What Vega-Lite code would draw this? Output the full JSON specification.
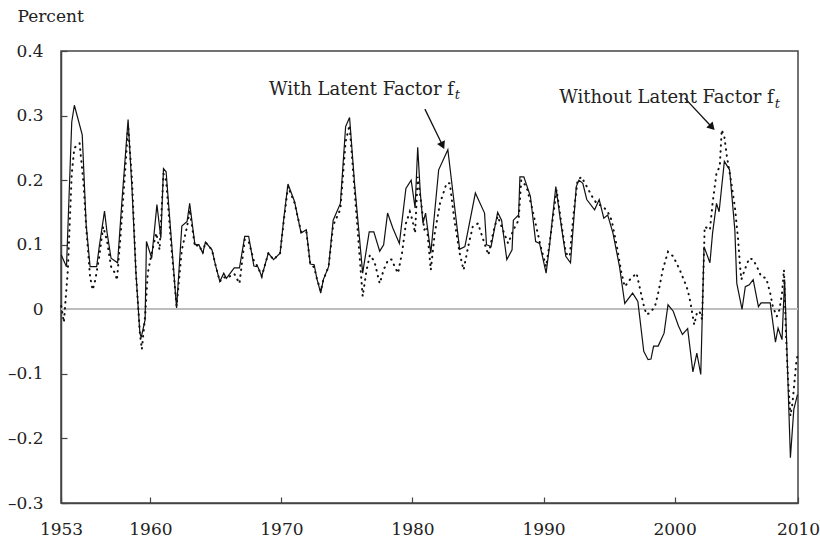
{
  "$schema": "https://vega.github.io/schema/vega-lite/v6.json",
  "width": 737,
  "height": 452,
  "autosize": "none",
  "padding": {"left": 61, "top": 51, "right": 22, "bottom": 46},
  "background": "white",
  "config": {
    "view": {"stroke": "#444", "strokeWidth": 1.5},
    "font": "DejaVu Serif"
  },
  "datasets": {
    "withf": [
      {"year": 1953.2, "value": 0.084}, {"year": 1953.6, "value": 0.066}, {"year": 1954.0, "value": 0.29}, {"year": 1954.2, "value": 0.316},
      {"year": 1954.8, "value": 0.27}, {"year": 1955.1, "value": 0.131}, {"year": 1955.4, "value": 0.066}, {"year": 1955.9, "value": 0.066},
      {"year": 1956.1, "value": 0.097}, {"year": 1956.5, "value": 0.152}, {"year": 1956.7, "value": 0.118}, {"year": 1957.0, "value": 0.079},
      {"year": 1957.5, "value": 0.072}, {"year": 1957.8, "value": 0.159}, {"year": 1958.3, "value": 0.294}, {"year": 1958.6, "value": 0.185},
      {"year": 1958.9, "value": 0.056}, {"year": 1959.2, "value": -0.037}, {"year": 1959.3, "value": -0.044}, {"year": 1959.6, "value": -0.016},
      {"year": 1959.7, "value": 0.105}, {"year": 1960.1, "value": 0.079}, {"year": 1960.5, "value": 0.162}, {"year": 1960.8, "value": 0.11},
      {"year": 1961.0, "value": 0.218}, {"year": 1961.2, "value": 0.213}, {"year": 1961.6, "value": 0.108}, {"year": 1962.0, "value": 0.002},
      {"year": 1962.4, "value": 0.129}, {"year": 1962.8, "value": 0.136}, {"year": 1963.0, "value": 0.164}, {"year": 1963.4, "value": 0.1},
      {"year": 1963.7, "value": 0.1}, {"year": 1964.0, "value": 0.087}, {"year": 1964.2, "value": 0.104}, {"year": 1964.7, "value": 0.092},
      {"year": 1965.0, "value": 0.066}, {"year": 1965.3, "value": 0.043}, {"year": 1965.6, "value": 0.056}, {"year": 1965.8, "value": 0.048},
      {"year": 1966.4, "value": 0.064}, {"year": 1966.8, "value": 0.064}, {"year": 1967.2, "value": 0.113}, {"year": 1967.5, "value": 0.113},
      {"year": 1967.9, "value": 0.067}, {"year": 1968.2, "value": 0.066}, {"year": 1968.5, "value": 0.051}, {"year": 1969.0, "value": 0.087},
      {"year": 1969.4, "value": 0.077}, {"year": 1969.9, "value": 0.087}, {"year": 1970.2, "value": 0.144}, {"year": 1970.5, "value": 0.194},
      {"year": 1971.0, "value": 0.167}, {"year": 1971.5, "value": 0.118}, {"year": 1971.9, "value": 0.123}, {"year": 1972.2, "value": 0.07},
      {"year": 1972.5, "value": 0.069}, {"year": 1972.7, "value": 0.048}, {"year": 1973.0, "value": 0.025}, {"year": 1973.2, "value": 0.046},
      {"year": 1973.6, "value": 0.066}, {"year": 1973.95, "value": 0.138}, {"year": 1974.5, "value": 0.164}, {"year": 1974.9, "value": 0.283},
      {"year": 1975.2, "value": 0.297}, {"year": 1975.6, "value": 0.19}, {"year": 1976.2, "value": 0.056}, {"year": 1976.7, "value": 0.12},
      {"year": 1977.05, "value": 0.12}, {"year": 1977.5, "value": 0.09}, {"year": 1977.8, "value": 0.1}, {"year": 1978.1, "value": 0.149},
      {"year": 1978.5, "value": 0.126}, {"year": 1979.0, "value": 0.102}, {"year": 1979.5, "value": 0.187}, {"year": 1979.9, "value": 0.2},
      {"year": 1980.2, "value": 0.157}, {"year": 1980.4, "value": 0.251}, {"year": 1980.6, "value": 0.18}, {"year": 1980.8, "value": 0.133},
      {"year": 1981.0, "value": 0.149}, {"year": 1981.4, "value": 0.087}, {"year": 1982.0, "value": 0.216}, {"year": 1982.7, "value": 0.247},
      {"year": 1983.6, "value": 0.093}, {"year": 1984.0, "value": 0.097}, {"year": 1984.8, "value": 0.18}, {"year": 1985.5, "value": 0.149},
      {"year": 1985.65, "value": 0.1}, {"year": 1986.0, "value": 0.097}, {"year": 1986.5, "value": 0.15}, {"year": 1986.8, "value": 0.138},
      {"year": 1987.2, "value": 0.077}, {"year": 1987.6, "value": 0.092}, {"year": 1987.7, "value": 0.138}, {"year": 1988.1, "value": 0.146},
      {"year": 1988.2, "value": 0.205}, {"year": 1988.5, "value": 0.205}, {"year": 1989.0, "value": 0.175}, {"year": 1989.4, "value": 0.105},
      {"year": 1989.7, "value": 0.102}, {"year": 1990.2, "value": 0.056}, {"year": 1990.45, "value": 0.097}, {"year": 1990.94, "value": 0.19},
      {"year": 1991.25, "value": 0.144}, {"year": 1991.7, "value": 0.082}, {"year": 1992.06, "value": 0.072}, {"year": 1992.5, "value": 0.19},
      {"year": 1992.7, "value": 0.2}, {"year": 1993.0, "value": 0.195}, {"year": 1993.3, "value": 0.17}, {"year": 1993.9, "value": 0.154},
      {"year": 1994.25, "value": 0.17}, {"year": 1994.6, "value": 0.141}, {"year": 1994.9, "value": 0.146}, {"year": 1995.3, "value": 0.118},
      {"year": 1995.8, "value": 0.066}, {"year": 1996.2, "value": 0.009}, {"year": 1996.8, "value": 0.025}, {"year": 1997.2, "value": 0.012},
      {"year": 1997.65, "value": -0.065}, {"year": 1997.98, "value": -0.078}, {"year": 1998.2, "value": -0.077}, {"year": 1998.4, "value": -0.057},
      {"year": 1998.75, "value": -0.057}, {"year": 1999.2, "value": -0.037}, {"year": 1999.5, "value": 0.007}, {"year": 1999.9, "value": -0.003},
      {"year": 2000.3, "value": -0.026}, {"year": 2000.6, "value": -0.039}, {"year": 2001.0, "value": -0.03}, {"year": 2001.4, "value": -0.097},
      {"year": 2001.7, "value": -0.068}, {"year": 2002.0, "value": -0.101}, {"year": 2002.25, "value": 0.097}, {"year": 2002.7, "value": 0.072},
      {"year": 2002.9, "value": 0.118}, {"year": 2003.2, "value": 0.164}, {"year": 2003.4, "value": 0.151}, {"year": 2003.8, "value": 0.229},
      {"year": 2004.2, "value": 0.216}, {"year": 2004.6, "value": 0.123}, {"year": 2004.75, "value": 0.04}, {"year": 2005.15, "value": 0.0},
      {"year": 2005.4, "value": 0.035}, {"year": 2005.7, "value": 0.038}, {"year": 2006.0, "value": 0.046}, {"year": 2006.4, "value": 0.004},
      {"year": 2006.6, "value": 0.01}, {"year": 2007.3, "value": 0.01}, {"year": 2007.7, "value": -0.051}, {"year": 2007.9, "value": -0.029},
      {"year": 2008.2, "value": -0.047}, {"year": 2008.4, "value": 0.046}, {"year": 2008.84, "value": -0.23}, {"year": 2009.1, "value": -0.155},
      {"year": 2009.38, "value": -0.132}
    ],
    "withoutf": [
      {"year": 1953.2, "value": 0.005}, {"year": 1953.4, "value": -0.02}, {"year": 1953.7, "value": 0.06}, {"year": 1954.0, "value": 0.21},
      {"year": 1954.2, "value": 0.25}, {"year": 1954.6, "value": 0.257}, {"year": 1954.9, "value": 0.195}, {"year": 1955.1, "value": 0.128},
      {"year": 1955.4, "value": 0.05}, {"year": 1955.6, "value": 0.03}, {"year": 1955.8, "value": 0.046}, {"year": 1956.1, "value": 0.082},
      {"year": 1956.4, "value": 0.128}, {"year": 1956.7, "value": 0.105}, {"year": 1957.0, "value": 0.066}, {"year": 1957.3, "value": 0.056},
      {"year": 1957.45, "value": 0.045}, {"year": 1957.7, "value": 0.108}, {"year": 1958.1, "value": 0.221}, {"year": 1958.3, "value": 0.285},
      {"year": 1958.6, "value": 0.2}, {"year": 1958.9, "value": 0.056}, {"year": 1959.2, "value": -0.037}, {"year": 1959.35, "value": -0.062},
      {"year": 1959.6, "value": -0.01}, {"year": 1959.8, "value": 0.056}, {"year": 1960.1, "value": 0.087}, {"year": 1960.45, "value": 0.118},
      {"year": 1960.7, "value": 0.092}, {"year": 1961.0, "value": 0.21}, {"year": 1961.2, "value": 0.2}, {"year": 1961.6, "value": 0.097},
      {"year": 1962.0, "value": 0.005}, {"year": 1962.4, "value": 0.092}, {"year": 1962.8, "value": 0.128}, {"year": 1963.0, "value": 0.154},
      {"year": 1963.4, "value": 0.097}, {"year": 1963.7, "value": 0.1}, {"year": 1964.0, "value": 0.087}, {"year": 1964.2, "value": 0.104},
      {"year": 1964.7, "value": 0.092}, {"year": 1965.0, "value": 0.066}, {"year": 1965.3, "value": 0.043}, {"year": 1965.6, "value": 0.05},
      {"year": 1965.8, "value": 0.048}, {"year": 1966.4, "value": 0.055}, {"year": 1966.8, "value": 0.04}, {"year": 1967.2, "value": 0.108},
      {"year": 1967.5, "value": 0.105}, {"year": 1967.9, "value": 0.075}, {"year": 1968.2, "value": 0.066}, {"year": 1968.5, "value": 0.051},
      {"year": 1969.0, "value": 0.087}, {"year": 1969.4, "value": 0.077}, {"year": 1969.9, "value": 0.087}, {"year": 1970.2, "value": 0.14},
      {"year": 1970.5, "value": 0.19}, {"year": 1971.0, "value": 0.165}, {"year": 1971.5, "value": 0.12}, {"year": 1971.9, "value": 0.12},
      {"year": 1972.2, "value": 0.07}, {"year": 1972.5, "value": 0.065}, {"year": 1972.7, "value": 0.048}, {"year": 1973.0, "value": 0.028},
      {"year": 1973.2, "value": 0.046}, {"year": 1973.6, "value": 0.066}, {"year": 1973.95, "value": 0.13}, {"year": 1974.5, "value": 0.155},
      {"year": 1974.9, "value": 0.26}, {"year": 1975.2, "value": 0.285}, {"year": 1975.6, "value": 0.18}, {"year": 1976.2, "value": 0.02},
      {"year": 1976.5, "value": 0.061}, {"year": 1976.75, "value": 0.084}, {"year": 1977.1, "value": 0.074}, {"year": 1977.5, "value": 0.04},
      {"year": 1977.8, "value": 0.061}, {"year": 1978.15, "value": 0.077}, {"year": 1978.4, "value": 0.077}, {"year": 1978.65, "value": 0.066},
      {"year": 1978.9, "value": 0.056}, {"year": 1979.2, "value": 0.087}, {"year": 1979.5, "value": 0.133}, {"year": 1979.8, "value": 0.151},
      {"year": 1980.0, "value": 0.138}, {"year": 1980.2, "value": 0.118}, {"year": 1980.4, "value": 0.205}, {"year": 1980.7, "value": 0.159},
      {"year": 1980.9, "value": 0.123}, {"year": 1981.1, "value": 0.128}, {"year": 1981.4, "value": 0.061}, {"year": 1981.7, "value": 0.118},
      {"year": 1982.1, "value": 0.164}, {"year": 1982.6, "value": 0.195}, {"year": 1982.85, "value": 0.195}, {"year": 1983.2, "value": 0.138},
      {"year": 1983.6, "value": 0.087}, {"year": 1983.9, "value": 0.061}, {"year": 1984.25, "value": 0.097}, {"year": 1984.6, "value": 0.128},
      {"year": 1985.0, "value": 0.133}, {"year": 1985.4, "value": 0.108}, {"year": 1985.8, "value": 0.084}, {"year": 1986.15, "value": 0.118},
      {"year": 1986.5, "value": 0.144}, {"year": 1986.9, "value": 0.123}, {"year": 1987.3, "value": 0.102}, {"year": 1987.7, "value": 0.123},
      {"year": 1988.1, "value": 0.138}, {"year": 1988.3, "value": 0.2}, {"year": 1988.7, "value": 0.19}, {"year": 1989.1, "value": 0.159},
      {"year": 1989.5, "value": 0.123}, {"year": 1989.85, "value": 0.092}, {"year": 1990.2, "value": 0.066}, {"year": 1990.5, "value": 0.108},
      {"year": 1991.0, "value": 0.185}, {"year": 1991.4, "value": 0.128}, {"year": 1991.7, "value": 0.087}, {"year": 1992.0, "value": 0.082},
      {"year": 1992.3, "value": 0.149}, {"year": 1992.6, "value": 0.2}, {"year": 1992.9, "value": 0.205}, {"year": 1993.3, "value": 0.19},
      {"year": 1993.7, "value": 0.175}, {"year": 1994.05, "value": 0.164}, {"year": 1994.55, "value": 0.159}, {"year": 1994.9, "value": 0.151},
      {"year": 1995.2, "value": 0.138}, {"year": 1995.6, "value": 0.097}, {"year": 1995.95, "value": 0.056}, {"year": 1996.2, "value": 0.035},
      {"year": 1996.6, "value": 0.046}, {"year": 1997.1, "value": 0.056}, {"year": 1997.35, "value": 0.033}, {"year": 1997.6, "value": 0.01},
      {"year": 1997.85, "value": -0.008}, {"year": 1998.1, "value": -0.006}, {"year": 1998.5, "value": 0.004}, {"year": 1998.75, "value": 0.025},
      {"year": 1999.1, "value": 0.061}, {"year": 1999.5, "value": 0.089}, {"year": 1999.9, "value": 0.082}, {"year": 2000.4, "value": 0.061},
      {"year": 2000.8, "value": 0.041}, {"year": 2001.0, "value": 0.03}, {"year": 2001.2, "value": 0.012}, {"year": 2001.5, "value": -0.024},
      {"year": 2001.7, "value": -0.006}, {"year": 2001.9, "value": -0.003}, {"year": 2002.1, "value": -0.016}, {"year": 2002.3, "value": 0.128},
      {"year": 2002.7, "value": 0.123}, {"year": 2002.9, "value": 0.164}, {"year": 2003.2, "value": 0.211}, {"year": 2003.45, "value": 0.221},
      {"year": 2003.6, "value": 0.278}, {"year": 2003.8, "value": 0.267}, {"year": 2004.0, "value": 0.236}, {"year": 2004.3, "value": 0.2},
      {"year": 2004.6, "value": 0.159}, {"year": 2004.85, "value": 0.108}, {"year": 2005.0, "value": 0.066}, {"year": 2005.1, "value": 0.046},
      {"year": 2005.35, "value": 0.061}, {"year": 2005.7, "value": 0.079}, {"year": 2006.0, "value": 0.077}, {"year": 2006.4, "value": 0.061},
      {"year": 2006.6, "value": 0.051}, {"year": 2007.0, "value": 0.048}, {"year": 2007.3, "value": 0.025}, {"year": 2007.5, "value": 0.004},
      {"year": 2007.8, "value": -0.011}, {"year": 2008.0, "value": -0.001}, {"year": 2008.2, "value": 0.025}, {"year": 2008.35, "value": 0.061},
      {"year": 2008.5, "value": -0.037}, {"year": 2008.66, "value": -0.109}, {"year": 2008.84, "value": -0.165}, {"year": 2009.0, "value": -0.145},
      {"year": 2009.3, "value": -0.08}, {"year": 2009.4, "value": -0.07}
    ],
    "notes": [
      {"year": 1983.16, "value": 0.3317, "text": "With Latent Factor f", "sub": "t", "subvalue": 0.325},
      {"year": 2007.57, "value": 0.3189, "text": "Without Latent Factor f", "sub": "t", "subvalue": 0.3116}
    ],
    "arrows": [
      {"id": "with", "year": 1980.95, "value": 0.31, "year2": 1982.3, "value2": 0.2536},
      {"id": "without", "year": 2000.78, "value": 0.327, "year2": 2002.86, "value2": 0.282}
    ]
  },
  "layer": [
    {
      "data": {"name": "withf"},
      "mark": {"type": "rule", "color": "#bdbdbd", "strokeWidth": 1},
      "encoding": {
        "y": {"datum": 0, "type": "quantitative", "scale": {"domain": [-0.3, 0.4], "nice": false, "zero": false}}
      }
    },
    {
      "data": {"name": "withoutf"},
      "mark": {"type": "line", "color": "#111", "strokeWidth": 2, "strokeDash": [0.5, 5.5], "strokeCap": "round"},
      "encoding": {
        "x": {"field": "year", "type": "quantitative", "scale": {"domain": [1953.18, 2009.42], "nice": false, "zero": false}},
        "y": {"field": "value", "type": "quantitative", "scale": {"domain": [-0.3, 0.4], "nice": false, "zero": false}}
      }
    },
    {
      "data": {"name": "withf"},
      "mark": {"type": "line", "color": "#111", "strokeWidth": 1.2},
      "encoding": {
        "x": {
          "field": "year", "type": "quantitative",
          "scale": {"domain": [1953.18, 2009.42], "nice": false, "zero": false},
          "axis": {
            "title": null, "grid": false,
            "values": [1953.18, 1960, 1970, 1980, 1990, 2000, 2009.42],
            "labelExpr": "datum.value < 1955 ? '1953' : (datum.value > 2008 ? '2010' : format(datum.value, 'd'))",
            "tickSize": -6, "tickColor": "#444", "tickWidth": 1.2,
            "labelPadding": 24, "labelFont": "DejaVu Serif", "labelFontSize": 17, "labelColor": "#222",
            "domainColor": "#444", "domainWidth": 1.5,
            "labelOverlap": false, "labelFlush": false, "labelBound": false
          }
        },
        "y": {
          "field": "value", "type": "quantitative",
          "scale": {"domain": [-0.3, 0.4], "nice": false, "zero": false},
          "axis": {
            "title": "Percent", "titleAngle": 0, "titleX": -44, "titleY": -30, "titleAlign": "left", "titleBaseline": "alphabetic",
            "titleFont": "DejaVu Serif", "titleFontSize": 17, "titleFontWeight": "normal", "titleColor": "#222",
            "grid": false,
            "values": [-0.3, -0.2, -0.1, 0, 0.1, 0.2, 0.3, 0.4],
            "labelExpr": "datum.value == 0 ? '0' : (datum.value < 0 ? '–' : '') + format(abs(datum.value), '.1f')",
            "tickSize": -6, "tickColor": "#444", "tickWidth": 1.2,
            "labelPadding": 24, "labelFont": "DejaVu Serif", "labelFontSize": 17, "labelColor": "#222",
            "domainColor": "#444", "domainWidth": 1.5,
            "labelOverlap": false, "labelFlush": false, "labelBound": false
          }
        }
      }
    },
    {
      "data": {"name": "arrows"},
      "mark": {"type": "rule", "color": "#111", "strokeWidth": 1.3},
      "encoding": {
        "x": {"field": "year", "type": "quantitative", "scale": {"domain": [1953.18, 2009.42], "nice": false, "zero": false}},
        "x2": {"field": "year2"},
        "y": {"field": "value", "type": "quantitative", "scale": {"domain": [-0.3, 0.4], "nice": false, "zero": false}},
        "y2": {"field": "value2"}
      }
    },
    {
      "data": {"name": "arrows"},
      "transform": [{"filter": "datum.id == 'with'"}],
      "mark": {"type": "point", "shape": "triangle-down", "filled": true, "color": "#111", "size": 75, "angle": 334, "opacity": 1},
      "encoding": {
        "x": {"field": "year2", "type": "quantitative", "scale": {"domain": [1953.18, 2009.42], "nice": false, "zero": false}},
        "y": {"field": "value2", "type": "quantitative", "scale": {"domain": [-0.3, 0.4], "nice": false, "zero": false}}
      }
    },
    {
      "data": {"name": "arrows"},
      "transform": [{"filter": "datum.id == 'without'"}],
      "mark": {"type": "point", "shape": "triangle-down", "filled": true, "color": "#111", "size": 75, "angle": 317, "opacity": 1},
      "encoding": {
        "x": {"field": "year2", "type": "quantitative", "scale": {"domain": [1953.18, 2009.42], "nice": false, "zero": false}},
        "y": {"field": "value2", "type": "quantitative", "scale": {"domain": [-0.3, 0.4], "nice": false, "zero": false}}
      }
    },
    {
      "data": {"name": "notes"},
      "mark": {"type": "text", "align": "right", "baseline": "alphabetic", "font": "DejaVu Serif", "fontSize": 18, "color": "#222"},
      "encoding": {
        "x": {"field": "year", "type": "quantitative", "scale": {"domain": [1953.18, 2009.42], "nice": false, "zero": false}},
        "y": {"field": "value", "type": "quantitative", "scale": {"domain": [-0.3, 0.4], "nice": false, "zero": false}},
        "text": {"field": "text"}
      }
    },
    {
      "data": {"name": "notes"},
      "mark": {"type": "text", "align": "left", "baseline": "alphabetic", "font": "DejaVu Serif", "fontSize": 13, "fontStyle": "italic", "color": "#222", "dx": 1},
      "encoding": {
        "x": {"field": "year", "type": "quantitative", "scale": {"domain": [1953.18, 2009.42], "nice": false, "zero": false}},
        "y": {"field": "subvalue", "type": "quantitative", "scale": {"domain": [-0.3, 0.4], "nice": false, "zero": false}},
        "text": {"field": "sub"}
      }
    }
  ]
}
